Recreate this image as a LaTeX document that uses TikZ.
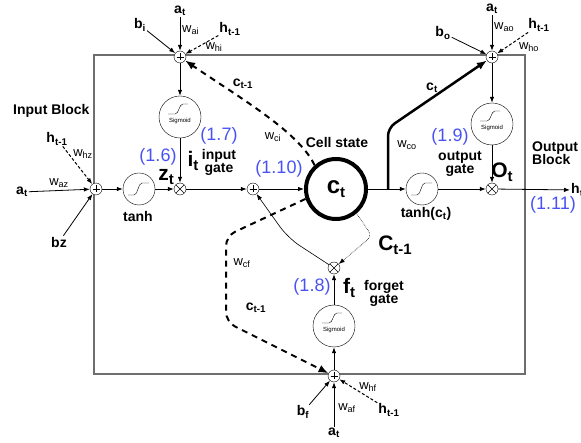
\documentclass[tikz,border=0pt]{standalone}
\usepackage{fontspec}
\setmainfont{Liberation Sans}
\usetikzlibrary{arrows.meta}

\definecolor{eqblue}{RGB}{72,82,242}
\definecolor{boxgray}{RGB}{110,110,110}
\newcommand{\bigsub}[1]{\raisebox{-4pt}{\fontsize{15}{15}\selectfont #1}}

\tikzset{
  >={Latex[length=6pt,width=4.5pt]},
  sum/.style={circle,draw,fill=white,minimum size=12,inner sep=0pt,
    path picture={\draw[shift={(path picture bounding box.center)}] (-3.5,0) -- (3.5,0) (0,-3.5) -- (0,3.5);}},
  prod/.style={circle,draw,fill=white,minimum size=12,inner sep=0pt,
    path picture={\draw[shift={(path picture bounding box.center)}] (-4.2,-4.2) -- (4.2,4.2) (-4.2,4.2) -- (4.2,-4.2);}},
  sigm/.style={circle,draw,fill=white,minimum size=42,inner sep=0pt,
    path picture={\draw[shift={(path picture bounding box.center)}] (-12,-3) -- (-5,-3) .. controls (-1,-3) and (-1,-13) .. (3,-13) -- (8,-13);
      \node[font=\fontsize{6}{6}\selectfont] at ([yshift=-4pt]path picture bounding box.center) {Sigmoid};}},
  squash/.style={circle,draw,fill=white,minimum size=32,inner sep=0pt,
    path picture={\draw[shift={(path picture bounding box.center)}] (-11,6) -- (-5,6) .. controls (-1,6) and (-1,-6) .. (3,-6) -- (10,-6);}},
  cellst/.style={circle,draw,line width=4pt,minimum size=60,inner sep=0pt,font=\fontsize{24}{24}\selectfont\bfseries},
  flow/.style={->,line width=0.8pt},
  hdash/.style={->,line width=1pt,dash pattern=on 3pt off 2pt},
  cdash/.style={-{Latex[length=10pt,width=8pt]},line width=2pt,dash pattern=on 6pt off 5pt},
  lbl/.style={font=\fontsize{14}{15}\selectfont\bfseries,inner sep=1pt},
  wl/.style={font=\fontsize{13}{14}\selectfont,inner sep=1pt},
  big/.style={font=\fontsize{21}{22}\selectfont\bfseries,inner sep=1pt},
  eqn/.style={font=\fontsize{18}{19}\selectfont,text=eqblue,inner sep=1pt},
  gate/.style={font=\fontsize{14}{15}\selectfont\bfseries,align=center,inner sep=1pt}
}

\begin{document}
\begin{tikzpicture}[x=1pt,y=-1pt]
    \useasboundingbox (0,0) rectangle (581,443);
    \draw[boxgray,line width=1.3pt] (94,55) rectangle (525,374);

    % units
    \node[sum] (addI) at (180,57) {};
    \node[sigm] (sigI) at (180,117) {};
    \node[prod] (mulI) at (180,189) {};
    \node[sum] (addZ) at (96,189) {};
    \node[squash] (tanhZ) at (139,189) {};
    \node[sum] (addC) at (253,189) {};
    \node[cellst] (cell) at (336,189) {c\bigsub{t}};
    \coordinate (jc) at (388,189);
    \node[squash] (tanhC) at (422,189) {};
    \node[prod] (mulO) at (492,189) {};
    \node[sigm] (sigO) at (492,124) {};
    \node[sum] (addO) at (492,57) {};
    \node[prod] (mulF) at (334,268) {};
    \node[sigm] (sigF) at (334,326) {};
    \node[sum] (addF) at (334,376) {};

    % main flow
    \draw[flow] (addZ) -- (tanhZ);
    \draw[flow] (tanhZ) -- (mulI);
    \draw[flow] (mulI) -- (addC);
    \draw[flow] (addC) -- (cell);
    \draw[line width=0.8pt] (cell) -- (jc);
    \draw[flow] (jc) -- (tanhC);
    \draw[flow] (tanhC) -- (mulO);
    \draw[flow] (addI) -- (sigI);
    \draw[flow] (sigI) -- (mulI);
    \draw[flow] (addO) -- (sigO);
    \draw[flow] (sigO) -- (mulO);
    \draw[flow] (addF) -- (sigF);
    \draw[flow] (sigF) -- (mulF);
    \draw[->,line width=0.6pt,rounded corners=14] (mulF) -- (288,238) -- (addC);
    \draw[->,line width=0.6pt,densely dotted,rounded corners=6] (cell.-50) -- (372,236) -- (mulF);
    \draw[line width=2.5pt,rounded corners=8,-{Latex[length=10pt,width=8pt]}] (jc) -- (388,128) -- (addO);
    \draw[cdash] (cell.132) .. controls (299,132) and (240,98) .. (addI);
    \draw[cdash,rounded corners=10] (cell.198) -- (226,236) -- (226,322) -- (addF);

    % input block
    \node[lbl,anchor=west] (inblk) at (12,111) {Input Block};
    \node[lbl] (atZ) at (22,192) {a\textsubscript{t}};
    \node[lbl] (htZ) at (57,139) {h\textsubscript{t-1}};
    \node[lbl] (bzZ) at (59,242) {bz};
    \node[wl] (wazZ) at (59,183) {w\textsubscript{az}};
    \node[wl] (whzZ) at (83,154) {w\textsubscript{hz}};
    \draw[flow] (atZ) -- (addZ);
    \draw[hdash] (htZ) -- (addZ);
    \draw[flow] (bzZ) -- (addZ);
    \node[lbl] (tanhL) at (138,216) {tanh};
    \node[big] (zt) at (166,177) {z\bigsub{t}};
    \node[eqn] (e16) at (158,157) {(1.6)};

    % input gate
    \node[lbl] (atI) at (180,11) {a\textsubscript{t}};
    \node[lbl] (biI) at (140,25) {b\textsubscript{i}};
    \node[lbl] (htI) at (230,29) {h\textsubscript{t-1}};
    \node[wl,anchor=west] (waiI) at (181,30) {w\textsubscript{ai}};
    \node[wl] (whiI) at (214,47) {w\textsubscript{hi}};
    \draw[flow] (atI) -- (addI);
    \draw[flow] (biI) -- (addI);
    \draw[hdash] (htI) -- (addI);
    \node[big] (it) at (193,161) {i\bigsub{t}};
    \node[eqn] (e17) at (219,136) {(1.7)};
    \node[gate] (ingate) at (219,162) {input\\[-2pt]gate};

    % cell
    \node[lbl] (cstate) at (337,142) {Cell state};
    \node[eqn] (e110) at (279,169) {(1.10)};
    \node[wl] (wci) at (273,137) {w\textsubscript{ci}};
    \node[lbl] (cprevI) at (243,84) {c\textsubscript{t-1}};
    \node[wl] (wcf) at (242,263) {w\textsubscript{cf}};
    \node[lbl] (cprevF) at (256,308) {c\textsubscript{t-1}};
    \node[big] (cprev) at (395,245) {C\bigsub{t-1}};

    % forget gate
    \node[lbl] (bF) at (303,412) {b\textsubscript{f}};
    \node[lbl] (atF) at (334,433) {a\textsubscript{t}};
    \node[lbl] (htF) at (389,410) {h\textsubscript{t-1}};
    \node[wl] (wafF) at (347,408) {w\textsubscript{af}};
    \node[wl] (whfF) at (368,387) {w\textsubscript{hf}};
    \draw[flow] (bF) -- (addF);
    \draw[flow] (atF) -- (addF);
    \draw[hdash] (htF) -- (addF);
    \node[eqn] (e18) at (312,287) {(1.8)};
    \node[big] (ft) at (349,288) {f\bigsub{t}};
    \node[gate] (fgate) at (384,293) {forget\\[-2pt]gate};

    % output gate
    \node[lbl] (atO) at (492,9) {a\textsubscript{t}};
    \node[lbl] (bO) at (443,33) {b\textsubscript{o}};
    \node[lbl] (htO) at (539,25) {h\textsubscript{t-1}};
    \node[wl,anchor=west] (waoO) at (493,27) {w\textsubscript{ao}};
    \node[wl] (whoO) at (529,47) {w\textsubscript{ho}};
    \draw[flow] (atO) -- (addO);
    \draw[flow] (bO) -- (addO);
    \draw[hdash] (htO) -- (addO);
    \node[lbl] (ctO) at (432,88) {c\textsubscript{t}};
    \node[wl] (wco) at (407,145) {w\textsubscript{co}};
    \node[eqn] (e19) at (450,137) {(1.9)};
    \node[gate] (ogate) at (460,164) {output\\[-2pt]gate};
    \node[big] (ot) at (502,172) {O\bigsub{t}};
    \node[lbl] (tanhCL) at (426,214) {tanh(c\textsubscript{t})};
    \node[gate,anchor=west,align=left] (outblk) at (531,153) {Output\\[-2pt]Block};
    \node[lbl,anchor=west] (ht) at (570,190) {h\textsubscript{t}};
    \draw[flow] (mulO) -- (ht);
    \node[eqn] (e111) at (553,205) {(1.11)};
\end{tikzpicture}
\end{document}
